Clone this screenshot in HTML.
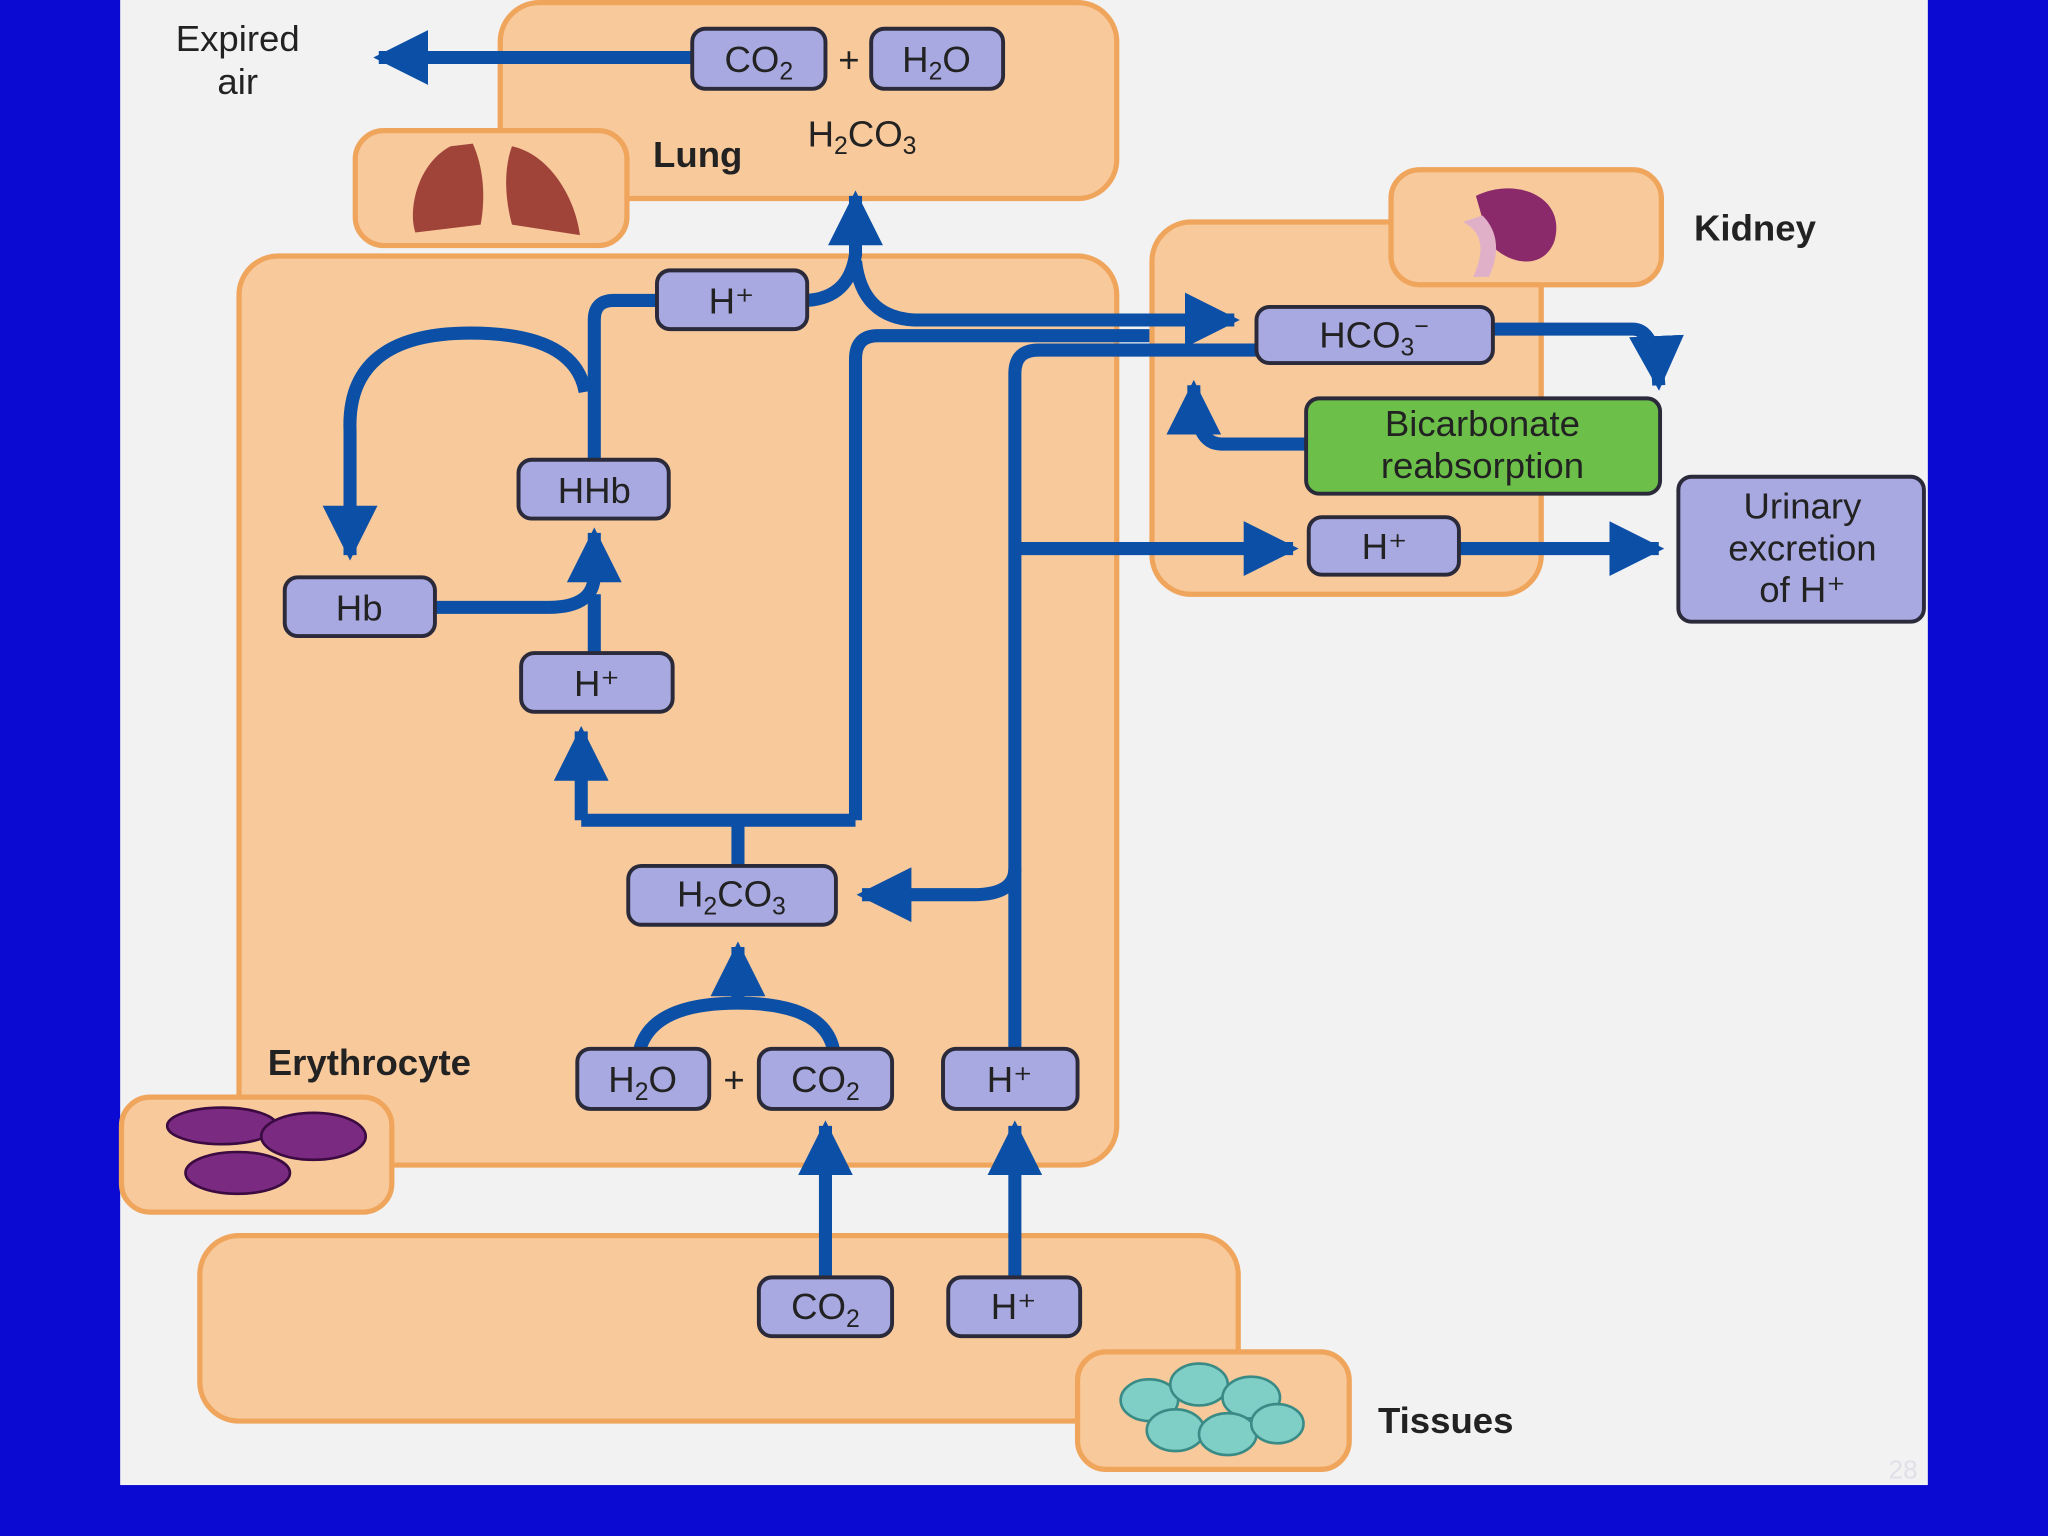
<!DOCTYPE html>
<html><head><meta charset="utf-8"><style>
html,body{margin:0;padding:0;background:#0a0ad2;}
svg{display:block}
text{font-family:"Liberation Sans",sans-serif;fill:#222}
</style></head><body>
<svg width="2048" height="1536" viewBox="0 0 1568 1176" xmlns="http://www.w3.org/2000/svg">
<defs>
<marker id="ah" viewBox="0 0 10 10" refX="9" refY="5" markerWidth="4.2" markerHeight="4.2" orient="auto" markerUnits="strokeWidth">
<path d="M0,0 L10,5 L0,10 Z" fill="#0b4fa6"/></marker>
</defs>
<rect x="0" y="0" width="1568" height="1176" fill="#0a0ad2"/>
<rect x="92" y="0" width="1384" height="1137" fill="#f2f2f2"/>
<g fill="#f8c99b" stroke="#f0a55c" stroke-width="4">
<rect x="383" y="2" width="472" height="150" rx="30"/>
<rect x="183" y="196" width="672" height="696" rx="30"/>
<rect x="153" y="946" width="795" height="142" rx="30"/>
<rect x="882" y="170" width="298" height="285" rx="30"/>
<rect x="272" y="100" width="208" height="88" rx="22"/>
<rect x="93" y="840" width="207" height="88" rx="22"/>
<rect x="825" y="1035" width="208" height="90" rx="22"/>
<rect x="1065" y="130" width="207" height="88" rx="22"/>
</g>
<!-- icons -->
<path d="M345,112 C320,125 312,160 318,178 L368,172 C372,150 370,128 362,110 Z" fill="#a0443a"/>
<path d="M392,112 C420,118 440,150 444,180 L392,172 C386,150 386,128 392,112 Z" fill="#a0443a"/>
<path d="M1130,150 C1160,135 1200,150 1190,185 C1180,210 1150,200 1140,185 Z" fill="#8a2a6a"/>
<path d="M1120,170 C1130,175 1140,185 1128,212 L1140,212 C1150,190 1145,175 1135,165 Z" fill="#e0b0c8"/>
<g fill="#7a2a80" stroke="#3a0a40" stroke-width="2">
<ellipse cx="170" cy="862" rx="42" ry="14"/>
<ellipse cx="240" cy="870" rx="40" ry="18"/>
<ellipse cx="182" cy="898" rx="40" ry="16"/>
</g>
<g fill="#7fcfc6" stroke="#3a8a86" stroke-width="2">
<ellipse cx="880" cy="1072" rx="22" ry="16"/><ellipse cx="918" cy="1060" rx="22" ry="16"/>
<ellipse cx="958" cy="1070" rx="22" ry="16"/><ellipse cx="900" cy="1095" rx="22" ry="16"/>
<ellipse cx="940" cy="1098" rx="22" ry="16"/><ellipse cx="978" cy="1090" rx="20" ry="15"/>
</g>
<!-- arrows -->
<g fill="none" stroke="#0b4fa6" stroke-width="10">
<path d="M530,44 H290" marker-end="url(#ah)"/>
<path d="M618,230 Q650,228 655,195 V150" marker-end="url(#ah)"/>
<path d="M655,200 Q660,243 700,245 H945" marker-end="url(#ah)"/>
<path d="M655,628 V275 Q655,257 672,257 H880"/>
<path d="M962,268 H795 Q777,268 777,286 V803"/>
<path d="M777,420 H990" marker-end="url(#ah)"/>
<path d="M777,665 Q777,685 745,685 H660" marker-end="url(#ah)"/>
<path d="M1143,252 H1250 Q1268,252 1270,295" marker-end="url(#ah)"/>
<path d="M1000,340 H935 Q914,340 914,295" marker-end="url(#ah)"/>
<path d="M1117,420 H1270" marker-end="url(#ah)"/>
<path d="M503,230 H470 Q455,230 455,245 V352"/>
<path d="M448,300 Q440,255 360,255 Q265,255 268,330 V425" marker-end="url(#ah)"/>
<path d="M333,465 H420 Q455,465 455,440 V408" marker-end="url(#ah)"/>
<path d="M455,500 V455"/>
<path d="M565,663 V628 M445,628 H655"/>
<path d="M445,628 V560" marker-end="url(#ah)"/>
<path d="M490,803 Q500,768 565,768 Q630,768 638,803"/>
<path d="M565,768 V725" marker-end="url(#ah)"/>
<path d="M632,978 V862" marker-end="url(#ah)"/>
<path d="M777,978 V862" marker-end="url(#ah)"/>
</g>
<!-- nodes -->
<g fill="#a9a9e2" stroke="#2a2a3a" stroke-width="3">
<rect x="530" y="22" width="102" height="46" rx="10"/>
<rect x="667" y="22" width="101" height="46" rx="10"/>
<rect x="503" y="207" width="115" height="45" rx="10"/>
<rect x="397" y="352" width="115" height="45" rx="10"/>
<rect x="218" y="442" width="115" height="45" rx="10"/>
<rect x="399" y="500" width="116" height="45" rx="10"/>
<rect x="481" y="663" width="159" height="45" rx="10"/>
<rect x="442" y="803" width="101" height="46" rx="10"/>
<rect x="581" y="803" width="102" height="46" rx="10"/>
<rect x="722" y="803" width="103" height="46" rx="10"/>
<rect x="581" y="978" width="102" height="45" rx="10"/>
<rect x="726" y="978" width="101" height="45" rx="10"/>
<rect x="962" y="235" width="181" height="43" rx="10"/>
<rect x="1002" y="396" width="115" height="44" rx="10"/>
<rect x="1285" y="365" width="188" height="111" rx="10"/>
<rect x="1000" y="305" width="271" height="73" rx="10" fill="#6cc04a"/>
</g>
<g font-size="28" text-anchor="middle">
<text x="581" y="55">CO<tspan font-size="19" dy="6">2</tspan></text>
<text x="650" y="55">+</text>
<text x="717" y="55">H<tspan font-size="19" dy="6">2</tspan><tspan dy="-6">O</tspan></text>
<text x="560" y="240">H⁺</text>
<text x="455" y="385">HHb</text>
<text x="275" y="475">Hb</text>
<text x="457" y="533">H⁺</text>
<text x="560" y="694">H<tspan font-size="19" dy="6">2</tspan><tspan dy="-6">CO</tspan><tspan font-size="19" dy="6">3</tspan></text>
<text x="492" y="836">H<tspan font-size="19" dy="6">2</tspan><tspan dy="-6">O</tspan></text>
<text x="562" y="836">+</text>
<text x="632" y="836">CO<tspan font-size="19" dy="6">2</tspan></text>
<text x="773" y="836">H⁺</text>
<text x="632" y="1010">CO<tspan font-size="19" dy="6">2</tspan></text>
<text x="776" y="1010">H⁺</text>
<text x="1052" y="266">HCO<tspan font-size="19" dy="6">3</tspan><tspan font-size="19" dy="-16">−</tspan></text>
<text x="1060" y="428">H⁺</text>
<text x="1380" y="397">Urinary</text>
<text x="1380" y="429">excretion</text>
<text x="1380" y="461">of H⁺</text>
<text x="1135" y="334">Bicarbonate</text>
<text x="1135" y="366">reabsorption</text>
<text x="182" y="39">Expired</text>
<text x="182" y="72">air</text>
<text x="660" y="112">H<tspan font-size="19" dy="6">2</tspan><tspan dy="-6">CO</tspan><tspan font-size="19" dy="6">3</tspan></text>
</g>
<g font-size="28" font-weight="bold">
<text x="500" y="128">Lung</text>
<text x="1297" y="184">Kidney</text>
<text x="205" y="823">Erythrocyte</text>
<text x="1055" y="1097">Tissues</text>
</g>
<text x="1446" y="1132" font-size="20" style="fill:#e0e0e8">28</text>
</svg>
</body></html>
